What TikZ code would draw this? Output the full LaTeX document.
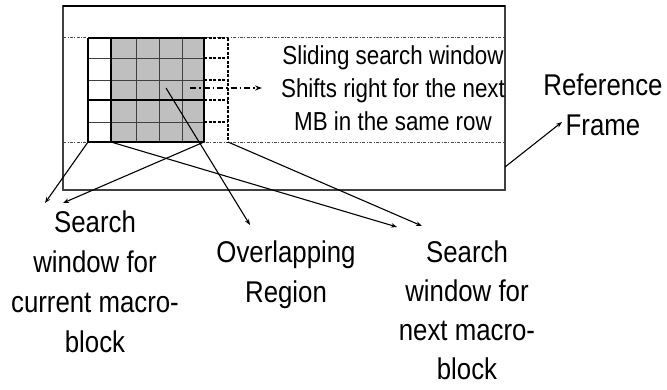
\documentclass[tikz,border=0pt]{standalone}
\usepackage{fontspec}
\setmainfont{Liberation Sans}
\newfontfamily\nar{Liberation Sans}[FakeStretch=0.86]
\usetikzlibrary{arrows.meta}
\begin{document}
\begin{tikzpicture}[x=1pt,y=-1pt,
  lbl/.style={font=\nar\fontsize{30}{40}\selectfont, align=center, inner sep=0pt, anchor=north},
  toplbl/.style={font=\nar\fontsize{26}{33}\selectfont, align=center, inner sep=0pt, anchor=north},
  conn/.style={line width=1.1pt, -{Stealth[length=6pt,width=4.5pt]}},
  gridthin/.style={line width=0.7pt, black!75},
  gridthick/.style={line width=1.4pt, black},
  ext/.style={line width=1.1pt, dash pattern=on 3pt off 1.5pt},
  dd/.style={line width=0.6pt, black!70, dash pattern=on 3pt off 1.5pt on 0.8pt off 1.5pt},
  framec/.style={line width=1.2pt, black!75}]
\fill[white] (0,0) rectangle (667,389);
\useasboundingbox (0,0) rectangle (667,389);
% reference frame
\draw[framec] (63,6) rectangle (505,190);
\draw[line width=2.2pt] (63,6) -- (505,6);
\draw[dd] (63,37) -- (505,37);
\draw[dd] (63,142) -- (505,142);
% grid
\fill[gray!50] (111,38) rectangle (204,142);
\foreach \yy in {58,80,122} {\draw[gridthin] (88,\yy) -- (204,\yy);}
\foreach \xx in {136,159,182} {\draw[gridthin] (\xx,38) -- (\xx,142);}
\foreach \yy in {38,100,142} {\draw[gridthick] (88,\yy) -- (204,\yy);}
\foreach \xx in {88,111,204} {\draw[gridthick] (\xx,38) -- (\xx,142);}
\foreach \yy in {38,58,80,100,122} {\draw[ext] (204,\yy) -- (228,\yy);}
\draw[ext] (228,38) -- (228,142);
% texts
\node[toplbl] (slide) at (393,45) {Sliding search window\\Shifts right for the next\\MB in the same row};
\node[lbl] (cur) at (95,211) {Search\\window for\\current macro-\\block};
\node[lbl] (ovl) at (286,241) {Overlapping\\Region};
\node[lbl, font=\nar\fontsize{30}{39}\selectfont] (nxt) at (467,241) {Search\\window for\\next macro-\\block};
\node[lbl] (ref) at (603,74) {Reference\\Frame};
% connector points
\coordinate (cA) at (88,142);
\coordinate (cB) at (204,142);
\coordinate (cC) at (111,142);
\coordinate (cD) at (228,142);
\coordinate (ctr) at (166,88);
\coordinate (shS) at (190,88);
\coordinate (shE) at (262,88);
\coordinate (frP) at (505,167);
\coordinate (tA) at (45,203);
\coordinate (tB) at (63,203);
\coordinate (tO) at (250,225);
\coordinate (tN1) at (397,227);
\coordinate (tN2) at (422,226);
\coordinate (tR) at (562,122);
% connectors
\draw[conn] (cA) -- (tA);
\draw[conn] (cB) -- (tB);
\draw[conn] (ctr) -- (tO);
\draw[conn] (cC) -- (tN1);
\draw[conn] (cD) -- (tN2);
\draw[conn] (frP) -- (tR);
\draw[line width=1.5pt, dash pattern=on 6pt off 3pt on 1.5pt off 3pt, -{Stealth[length=7pt,width=5pt]}] (shS) -- (shE);
\end{tikzpicture}
\end{document}
